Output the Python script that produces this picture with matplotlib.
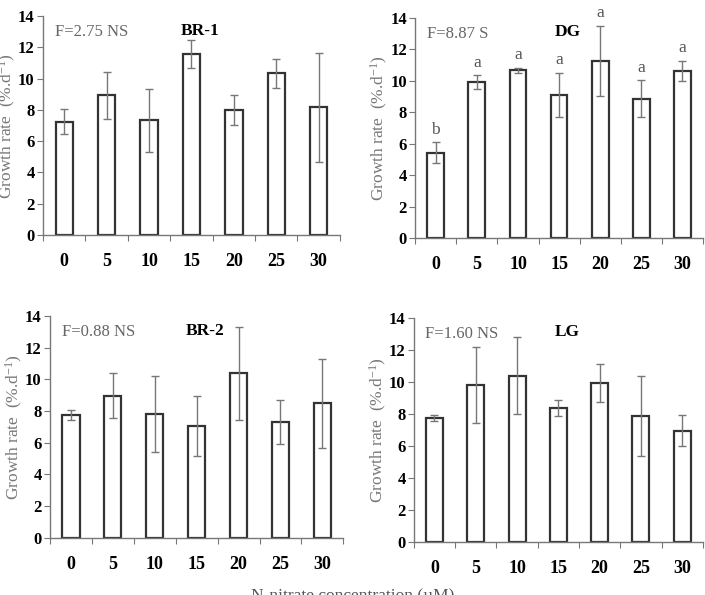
#growth rate bar charts, four strains
import matplotlib.pyplot as plt
import numpy as np

#data
conc = ["0", "5", "10", "15", "20", "25", "30"]

br1_mean = [7.25, 8.95, 7.33, 11.57, 7.99, 10.33, 8.16]
br1_err = [0.8, 1.5, 2.0, 0.9, 0.95, 0.95, 3.5]

dg_mean = [5.41, 9.92, 10.66, 9.12, 11.25, 8.87, 10.62]
dg_err = [0.67, 0.43, 0.17, 1.4, 2.25, 1.15, 0.65]
dg_letters = ["b", "a", "a", "a", "a", "a", "a"]

br2_mean = [7.76, 8.97, 7.84, 7.08, 10.38, 7.31, 8.49]
br2_err = [0.3, 1.4, 2.4, 1.9, 2.95, 1.4, 2.8]

lg_mean = [7.73, 9.80, 10.37, 8.35, 9.91, 7.87, 6.94]
lg_err = [0.2, 2.4, 2.4, 0.5, 1.2, 2.5, 0.97]

plt.rcParams['font.family'] = ['Liberation Serif', 'DejaVu Serif']
plt.rcParams['mathtext.fontset'] = 'custom'
plt.rcParams['mathtext.rm'] = 'Liberation Serif'
plt.rcParams['mathtext.it'] = 'Liberation Serif'

fig = plt.figure(figsize=(7.05, 5.95), dpi=100)

#one panel
def panel(rect, means, errs, title, ftext, letters=None):
    ax = fig.add_axes(rect)
    x = np.arange(len(conc))
    ax.bar(x, means, width=0.41, color="white", edgecolor="#333333", linewidth=1.6, zorder=2)
    ax.errorbar(x, means, yerr=errs, fmt="none", ecolor="#777777", elinewidth=1.0,
                capsize=3, capthick=1.0, zorder=3)
    ax.set_xlim(-0.5, len(conc) - 0.5)
    ax.set_ylim(0, 14)
    ax.set_yticks(range(0, 15, 2))
    ax.set_yticklabels([str(v) for v in range(0, 15, 2)], fontweight="bold", fontsize=12)
    #ticks between bars, labels under bars
    ax.set_xticks(np.arange(-0.5, len(conc)), minor=False)
    ax.set_xticklabels([])
    ax.set_xticks(x, minor=True)
    ax.set_xticklabels(conc, minor=True, fontweight="bold", fontsize=13)
    ax.tick_params(axis="x", which="major", direction="out", length=4, color="#777777")
    ax.tick_params(axis="x", which="minor", length=0, pad=13)
    ax.tick_params(axis="y", direction="out", length=4, color="#777777", pad=2)
    for s in ["top", "right"]:
        ax.spines[s].set_visible(False)
    for s in ["left", "bottom"]:
        ax.spines[s].set_color("#777777")
        ax.spines[s].set_linewidth(1.0)
    ax.set_ylabel("Growth rate  (%.d$^{\\mathrm{-1}}$)", color="#777777", fontsize=12.5, labelpad=0)
    ax.text(0.04, 0.965, ftext, transform=ax.transAxes, color="#666666", fontsize=12,
            ha="left", va="top")
    ax.text(0.53, 0.97, title, transform=ax.transAxes, fontweight="bold", fontsize=12.5,
            ha="center", va="top")
    if letters:
        for i, l in enumerate(letters):
            ax.text(x[i], means[i] + errs[i] + 0.3, l, ha="center", va="bottom",
                    color="#555555", fontsize=12.5, clip_on=False)
    return ax

panel([0.061, 0.605, 0.421, 0.368], br1_mean, br1_err, "BR-1", "F=2.75 NS")
panel([0.589, 0.600, 0.408, 0.370], dg_mean, dg_err, "DG", "F=8.87 S", dg_letters)
panel([0.071, 0.096, 0.416, 0.373], br2_mean, br2_err, "BR-2", "F=0.88 NS")
panel([0.587, 0.089, 0.410, 0.377], lg_mean, lg_err, "LG", "F=1.60 NS")

fig.text(0.5, 1 - 588 / 595, "N-nitrate concentration (\u00b5M)", ha="center", va="top",
         color="#555555", fontsize=12.5)

fig.savefig("out.png", dpi=100)
